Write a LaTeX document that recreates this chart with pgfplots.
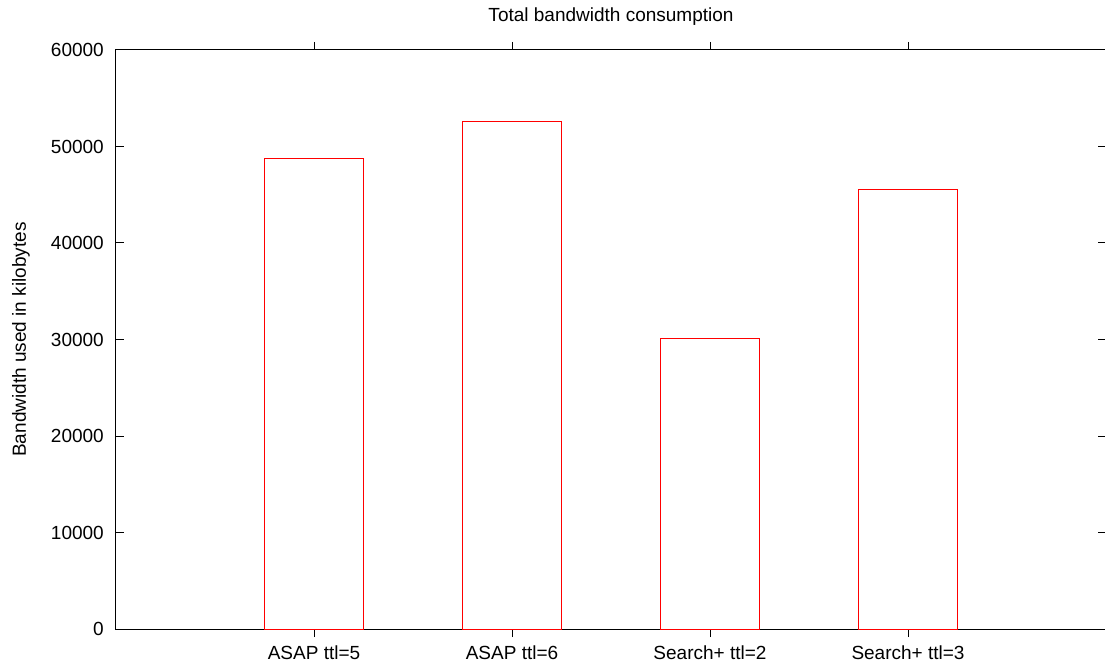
\documentclass[border=0pt]{standalone}
\usepackage{fontspec}
\setmainfont{Liberation Sans}
\usepackage{pgfplots}
\pgfplotsset{compat=1.18}
\newcommand{\cf}{\fontsize{19}{22}\selectfont}
\begin{document}
\begin{tikzpicture}
\useasboundingbox (-116pt,-33pt) rectangle (989pt,629pt);
\begin{axis}[
  at={(0pt,0pt)}, anchor=south west,
  scale only axis,
  width=990pt, height=579pt,
  xmin=0, xmax=5, ymin=0, ymax=60000,
  xtick={1,2,3,4},
  xticklabels={ASAP ttl=5, ASAP ttl=6, Search+ ttl=2, Search+ ttl=3},
  ytick={0,10000,20000,30000,40000,50000,60000},
  scaled y ticks=false,
  /pgf/number format/1000 sep={},
  /pgf/number format/assume math mode=true,
  tick align=inside,
  major tick length=8pt,
  tick style={black, line width=1pt},
  axis line style={black, line width=1pt},
  ticklabel style={font=\cf},
  yticklabel style={inner sep=0pt, anchor=east, xshift=-12pt},
  xticklabel style={inner sep=0pt, anchor=north, yshift=-9pt},
  title={Total bandwidth consumption},
  title style={font=\cf, at={(axis description cs:0.5,1)}, anchor=base, inner sep=0pt, yshift=22pt},
  ylabel={Bandwidth used in kilobytes},
  ylabel style={font=\cf, at={(axis description cs:0,0.5)}, anchor=base, inner sep=0pt, yshift=90pt},
  ybar, bar width=0.5,
]
\addplot[draw=red, fill=none, line width=1pt] coordinates {
  (1,48705) (2,52610) (3,30150) (4,45520)
};
\end{axis}
\end{tikzpicture}
\end{document}
